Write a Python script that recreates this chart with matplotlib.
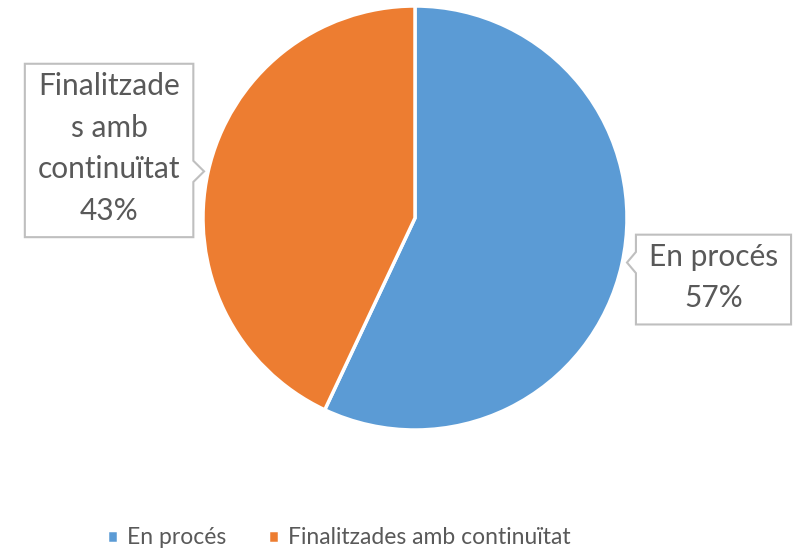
import matplotlib.pyplot as plt
from matplotlib.patches import Polygon

categories = ['En procés', 'Finalitzades amb continuïtat']
values = [57, 43]
# label text as wrapped inside the callouts
callout_text = ['En procés', 'Finalitzade\ns amb\ncontinuïtat']
colors = ['#5B9BD5', '#ED7D31']

TXT = '#595959'
EDGE = '#BFBFBF'
plt.rcParams['font.family'] = ['Lato', 'DejaVu Sans']

fig = plt.figure(figsize=(7.97, 5.54), dpi=100)
W, H = 797, 554
cx, cy, r = 415, 218, 212
ax = fig.add_axes([(cx - r) / W, (H - cy - r) / H, 2 * r / W, 2 * r / H])
wedges, _ = ax.pie(values, colors=colors, startangle=90, counterclock=False,
                   radius=1, wedgeprops=dict(edgecolor='white', linewidth=2.5))
ax.set_xlim(-1, 1)
ax.set_ylim(-1, 1)
ax.set_aspect('equal')
ax.axis('off')

# callout centres (data units, radius = 1) and which side the notch is on
positions = [(1.408, -0.281), (-1.443, 0.328)]
tips = [(1.0, -0.21), (-0.995, 0.22)]
sides = ['left', 'right']
texts = []
for lab, v, (x, y) in zip(callout_text, values, positions):
    t = ax.text(x, y, f'{lab}\n{v}%', ha='center', va='center', fontsize=21.5,
                color=TXT, linespacing=1.6, clip_on=False)
    texts.append(t)

fig.canvas.draw()
inv = ax.transData.inverted()
for t, tip, side in zip(texts, tips, sides):
    bb = t.get_window_extent()
    (x0, y0), (x1, y1) = inv.transform([(bb.x0 - 13, bb.y0 - 12), (bb.x1 + 13, bb.y1 + 8)])
    ty = tip[1]
    n = 0.05
    if side == 'left':
        pts = [(x0, y0), (x1, y0), (x1, y1), (x0, y1), (x0, ty + n), tip, (x0, ty - n)]
    else:
        pts = [(x0, y0), (x1, y0), (x1, ty - n), tip, (x1, ty + n), (x1, y1), (x0, y1)]
    ax.add_patch(Polygon(pts, closed=True, facecolor='white', edgecolor=EDGE,
                         linewidth=1.5, clip_on=False, zorder=2))
    t.set_zorder(3)

leg = fig.legend(wedges, categories, loc='center', bbox_to_anchor=(0.425, 1 - 538 / H),
                 ncol=2, frameon=False, fontsize=16.5, handlelength=0.5, handleheight=0.5,
                 handletextpad=0.4, columnspacing=1.8, labelcolor=TXT)

fig.savefig('out.png', dpi=100)
